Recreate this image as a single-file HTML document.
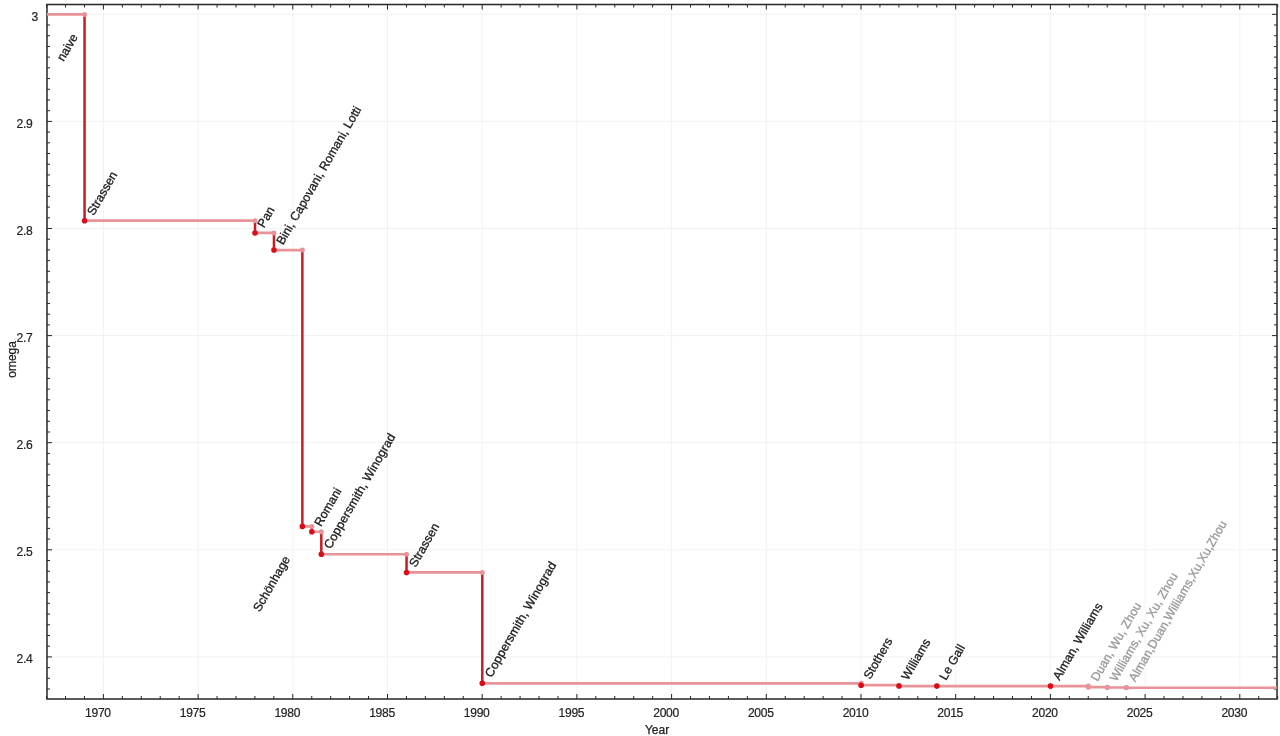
<!DOCTYPE html><html><head><meta charset="utf-8"><style>html,body{margin:0;padding:0;background:#fff;width:1280px;height:736px;overflow:hidden}svg{display:block;will-change:transform}#wrap{width:1280px;height:736px}text{font-family:"Liberation Sans",sans-serif}</style></head><body>
<div id="wrap">
<svg width="1280" height="736" viewBox="0 0 1280 736">
<rect width="1280" height="736" fill="#fff"/>
<path d="M103.40 4.5V699.0M198.10 4.5V699.0M292.80 4.5V699.0M387.50 4.5V699.0M482.20 4.5V699.0M576.90 4.5V699.0M671.60 4.5V699.0M766.30 4.5V699.0M861.00 4.5V699.0M955.70 4.5V699.0M1050.40 4.5V699.0M1145.10 4.5V699.0M1239.80 4.5V699.0M47.0 14.30H1277.0M47.0 121.40H1277.0M47.0 228.50H1277.0M47.0 335.60H1277.0M47.0 442.70H1277.0M47.0 549.80H1277.0M47.0 656.90H1277.0" stroke="#f2f2f2" stroke-width="1" fill="none"/>
<path d="M46.58 699.0v-3M46.58 4.5v3M65.52 699.0v-3M65.52 4.5v3M84.46 699.0v-3M84.46 4.5v3M103.40 699.0v-5M103.40 4.5v5M122.34 699.0v-3M122.34 4.5v3M141.28 699.0v-3M141.28 4.5v3M160.22 699.0v-3M160.22 4.5v3M179.16 699.0v-3M179.16 4.5v3M198.10 699.0v-5M198.10 4.5v5M217.04 699.0v-3M217.04 4.5v3M235.98 699.0v-3M235.98 4.5v3M254.92 699.0v-3M254.92 4.5v3M273.86 699.0v-3M273.86 4.5v3M292.80 699.0v-5M292.80 4.5v5M311.74 699.0v-3M311.74 4.5v3M330.68 699.0v-3M330.68 4.5v3M349.62 699.0v-3M349.62 4.5v3M368.56 699.0v-3M368.56 4.5v3M387.50 699.0v-5M387.50 4.5v5M406.44 699.0v-3M406.44 4.5v3M425.38 699.0v-3M425.38 4.5v3M444.32 699.0v-3M444.32 4.5v3M463.26 699.0v-3M463.26 4.5v3M482.20 699.0v-5M482.20 4.5v5M501.14 699.0v-3M501.14 4.5v3M520.08 699.0v-3M520.08 4.5v3M539.02 699.0v-3M539.02 4.5v3M557.96 699.0v-3M557.96 4.5v3M576.90 699.0v-5M576.90 4.5v5M595.84 699.0v-3M595.84 4.5v3M614.78 699.0v-3M614.78 4.5v3M633.72 699.0v-3M633.72 4.5v3M652.66 699.0v-3M652.66 4.5v3M671.60 699.0v-5M671.60 4.5v5M690.54 699.0v-3M690.54 4.5v3M709.48 699.0v-3M709.48 4.5v3M728.42 699.0v-3M728.42 4.5v3M747.36 699.0v-3M747.36 4.5v3M766.30 699.0v-5M766.30 4.5v5M785.24 699.0v-3M785.24 4.5v3M804.18 699.0v-3M804.18 4.5v3M823.12 699.0v-3M823.12 4.5v3M842.06 699.0v-3M842.06 4.5v3M861.00 699.0v-5M861.00 4.5v5M879.94 699.0v-3M879.94 4.5v3M898.88 699.0v-3M898.88 4.5v3M917.82 699.0v-3M917.82 4.5v3M936.76 699.0v-3M936.76 4.5v3M955.70 699.0v-5M955.70 4.5v5M974.64 699.0v-3M974.64 4.5v3M993.58 699.0v-3M993.58 4.5v3M1012.52 699.0v-3M1012.52 4.5v3M1031.46 699.0v-3M1031.46 4.5v3M1050.40 699.0v-5M1050.40 4.5v5M1069.34 699.0v-3M1069.34 4.5v3M1088.28 699.0v-3M1088.28 4.5v3M1107.22 699.0v-3M1107.22 4.5v3M1126.16 699.0v-3M1126.16 4.5v3M1145.10 699.0v-5M1145.10 4.5v5M1164.04 699.0v-3M1164.04 4.5v3M1182.98 699.0v-3M1182.98 4.5v3M1201.92 699.0v-3M1201.92 4.5v3M1220.86 699.0v-3M1220.86 4.5v3M1239.80 699.0v-5M1239.80 4.5v5M1258.74 699.0v-3M1258.74 4.5v3M1277.68 699.0v-3M1277.68 4.5v3M47.0 14.30h5M1277.0 14.30h-5M47.0 25.01h3M1277.0 25.01h-3M47.0 35.72h3M1277.0 35.72h-3M47.0 46.43h3M1277.0 46.43h-3M47.0 57.14h3M1277.0 57.14h-3M47.0 67.85h3M1277.0 67.85h-3M47.0 78.56h3M1277.0 78.56h-3M47.0 89.27h3M1277.0 89.27h-3M47.0 99.98h3M1277.0 99.98h-3M47.0 110.69h3M1277.0 110.69h-3M47.0 121.40h5M1277.0 121.40h-5M47.0 132.11h3M1277.0 132.11h-3M47.0 142.82h3M1277.0 142.82h-3M47.0 153.53h3M1277.0 153.53h-3M47.0 164.24h3M1277.0 164.24h-3M47.0 174.95h3M1277.0 174.95h-3M47.0 185.66h3M1277.0 185.66h-3M47.0 196.37h3M1277.0 196.37h-3M47.0 207.08h3M1277.0 207.08h-3M47.0 217.79h3M1277.0 217.79h-3M47.0 228.50h5M1277.0 228.50h-5M47.0 239.21h3M1277.0 239.21h-3M47.0 249.92h3M1277.0 249.92h-3M47.0 260.63h3M1277.0 260.63h-3M47.0 271.34h3M1277.0 271.34h-3M47.0 282.05h3M1277.0 282.05h-3M47.0 292.76h3M1277.0 292.76h-3M47.0 303.47h3M1277.0 303.47h-3M47.0 314.18h3M1277.0 314.18h-3M47.0 324.89h3M1277.0 324.89h-3M47.0 335.60h5M1277.0 335.60h-5M47.0 346.31h3M1277.0 346.31h-3M47.0 357.02h3M1277.0 357.02h-3M47.0 367.73h3M1277.0 367.73h-3M47.0 378.44h3M1277.0 378.44h-3M47.0 389.15h3M1277.0 389.15h-3M47.0 399.86h3M1277.0 399.86h-3M47.0 410.57h3M1277.0 410.57h-3M47.0 421.28h3M1277.0 421.28h-3M47.0 431.99h3M1277.0 431.99h-3M47.0 442.70h5M1277.0 442.70h-5M47.0 453.41h3M1277.0 453.41h-3M47.0 464.12h3M1277.0 464.12h-3M47.0 474.83h3M1277.0 474.83h-3M47.0 485.54h3M1277.0 485.54h-3M47.0 496.25h3M1277.0 496.25h-3M47.0 506.96h3M1277.0 506.96h-3M47.0 517.67h3M1277.0 517.67h-3M47.0 528.38h3M1277.0 528.38h-3M47.0 539.09h3M1277.0 539.09h-3M47.0 549.80h5M1277.0 549.80h-5M47.0 560.51h3M1277.0 560.51h-3M47.0 571.22h3M1277.0 571.22h-3M47.0 581.93h3M1277.0 581.93h-3M47.0 592.64h3M1277.0 592.64h-3M47.0 603.35h3M1277.0 603.35h-3M47.0 614.06h3M1277.0 614.06h-3M47.0 624.77h3M1277.0 624.77h-3M47.0 635.48h3M1277.0 635.48h-3M47.0 646.19h3M1277.0 646.19h-3M47.0 656.90h5M1277.0 656.90h-5M47.0 667.61h3M1277.0 667.61h-3M47.0 678.32h3M1277.0 678.32h-3M47.0 689.03h3M1277.0 689.03h-3" stroke="#262626" stroke-width="1.0" fill="none"/>
<rect x="47.0" y="4.5" width="1230.0" height="694.5" fill="none" stroke="#262626" stroke-width="1.5"/>
<text x="97.90" y="716.7" font-size="12.1" letter-spacing="-0.3" text-anchor="middle" fill="#222" stroke="#222" stroke-width="0.2">1970</text>
<text x="192.60" y="716.7" font-size="12.1" letter-spacing="-0.3" text-anchor="middle" fill="#222" stroke="#222" stroke-width="0.2">1975</text>
<text x="287.30" y="716.7" font-size="12.1" letter-spacing="-0.3" text-anchor="middle" fill="#222" stroke="#222" stroke-width="0.2">1980</text>
<text x="382.00" y="716.7" font-size="12.1" letter-spacing="-0.3" text-anchor="middle" fill="#222" stroke="#222" stroke-width="0.2">1985</text>
<text x="476.70" y="716.7" font-size="12.1" letter-spacing="-0.3" text-anchor="middle" fill="#222" stroke="#222" stroke-width="0.2">1990</text>
<text x="571.40" y="716.7" font-size="12.1" letter-spacing="-0.3" text-anchor="middle" fill="#222" stroke="#222" stroke-width="0.2">1995</text>
<text x="666.10" y="716.7" font-size="12.1" letter-spacing="-0.3" text-anchor="middle" fill="#222" stroke="#222" stroke-width="0.2">2000</text>
<text x="760.80" y="716.7" font-size="12.1" letter-spacing="-0.3" text-anchor="middle" fill="#222" stroke="#222" stroke-width="0.2">2005</text>
<text x="855.50" y="716.7" font-size="12.1" letter-spacing="-0.3" text-anchor="middle" fill="#222" stroke="#222" stroke-width="0.2">2010</text>
<text x="950.20" y="716.7" font-size="12.1" letter-spacing="-0.3" text-anchor="middle" fill="#222" stroke="#222" stroke-width="0.2">2015</text>
<text x="1044.90" y="716.7" font-size="12.1" letter-spacing="-0.3" text-anchor="middle" fill="#222" stroke="#222" stroke-width="0.2">2020</text>
<text x="1139.60" y="716.7" font-size="12.1" letter-spacing="-0.3" text-anchor="middle" fill="#222" stroke="#222" stroke-width="0.2">2025</text>
<text x="1234.30" y="716.7" font-size="12.1" letter-spacing="-0.3" text-anchor="middle" fill="#222" stroke="#222" stroke-width="0.2">2030</text>
<text x="31.6" y="20.80" font-size="12.1" letter-spacing="-0.3" fill="#222" stroke="#222" stroke-width="0.2">3</text>
<text x="16.5" y="127.90" font-size="12.1" letter-spacing="-0.3" fill="#222" stroke="#222" stroke-width="0.2">2.9</text>
<text x="16.5" y="235.00" font-size="12.1" letter-spacing="-0.3" fill="#222" stroke="#222" stroke-width="0.2">2.8</text>
<text x="16.5" y="342.10" font-size="12.1" letter-spacing="-0.3" fill="#222" stroke="#222" stroke-width="0.2">2.7</text>
<text x="16.5" y="449.20" font-size="12.1" letter-spacing="-0.3" fill="#222" stroke="#222" stroke-width="0.2">2.6</text>
<text x="16.5" y="556.30" font-size="12.1" letter-spacing="-0.3" fill="#222" stroke="#222" stroke-width="0.2">2.5</text>
<text x="16.5" y="663.40" font-size="12.1" letter-spacing="-0.3" fill="#222" stroke="#222" stroke-width="0.2">2.4</text>
<text x="657" y="733.9" font-size="12" text-anchor="middle" fill="#222" stroke="#222" stroke-width="0.25">Year</text>
<text transform="translate(15.5,359.4) rotate(-90)" font-size="12" text-anchor="middle" fill="#222" stroke="#222" stroke-width="0.25">omega</text>
<path d="M47.00 14.45H84.56M84.56 220.72H255.02M255.02 232.93H273.96M273.96 250.07H302.37M302.37 526.39H311.84M311.84 531.74H321.31M321.31 554.23H406.54M406.54 572.44H482.30M482.30 683.29H861.10M861.10 685.22H898.98M898.98 686.07H936.86M936.86 686.11H1050.50M1050.50 686.12H1088.38M1088.38 686.12V687.18M1088.38 687.18H1107.32M1107.32 687.18V687.52M1107.32 687.52H1126.26M1126.26 687.52V687.75M1126.26 687.75H1277.0" stroke="#e8939a" stroke-width="2.7" fill="none"/>
<path d="M84.56 14.45V220.72M255.02 220.72V232.93M273.96 232.93V250.07M302.37 250.07V526.39M311.84 526.39V531.74M321.31 531.74V554.23M406.54 554.23V572.44M482.30 572.44V683.29M861.10 683.29V685.22M898.98 685.22V686.07M936.86 686.07V686.11M1050.50 686.11V686.12" stroke="#cc1c22" stroke-width="2.5" fill="none"/>
<circle cx="84.56" cy="14.45" r="2.5" fill="#e8939a"/>
<circle cx="255.02" cy="220.72" r="2.5" fill="#e8939a"/>
<circle cx="273.96" cy="232.93" r="2.5" fill="#e8939a"/>
<circle cx="302.37" cy="250.07" r="2.5" fill="#e8939a"/>
<circle cx="311.84" cy="526.39" r="2.5" fill="#e8939a"/>
<circle cx="321.31" cy="531.74" r="2.5" fill="#e8939a"/>
<circle cx="406.54" cy="554.23" r="2.5" fill="#e8939a"/>
<circle cx="482.30" cy="572.44" r="2.5" fill="#e8939a"/>
<circle cx="861.10" cy="683.29" r="2.5" fill="#e8939a"/>
<circle cx="898.98" cy="685.22" r="2.5" fill="#e8939a"/>
<circle cx="936.86" cy="686.07" r="2.5" fill="#e8939a"/>
<circle cx="1050.50" cy="686.11" r="2.5" fill="#e8939a"/>
<circle cx="1088.38" cy="686.12" r="2.5" fill="#e8939a"/>
<circle cx="1088.38" cy="687.18" r="2.5" fill="#e8939a"/>
<circle cx="1107.32" cy="687.18" r="2.5" fill="#e8939a"/>
<circle cx="1107.32" cy="687.52" r="2.5" fill="#e8939a"/>
<circle cx="1126.26" cy="687.52" r="2.5" fill="#e8939a"/>
<circle cx="1126.26" cy="687.75" r="2.5" fill="#e8939a"/>
<circle cx="84.56" cy="220.72" r="2.8" fill="#dc0c14"/>
<circle cx="255.02" cy="232.93" r="2.8" fill="#dc0c14"/>
<circle cx="273.96" cy="250.07" r="2.8" fill="#dc0c14"/>
<circle cx="302.37" cy="526.39" r="2.8" fill="#dc0c14"/>
<circle cx="311.84" cy="531.74" r="2.8" fill="#dc0c14"/>
<circle cx="321.31" cy="554.23" r="2.8" fill="#dc0c14"/>
<circle cx="406.54" cy="572.44" r="2.8" fill="#dc0c14"/>
<circle cx="482.30" cy="683.29" r="2.8" fill="#dc0c14"/>
<circle cx="861.10" cy="685.22" r="2.8" fill="#dc0c14"/>
<circle cx="898.98" cy="686.07" r="2.8" fill="#dc0c14"/>
<circle cx="936.86" cy="686.11" r="2.8" fill="#dc0c14"/>
<circle cx="1050.50" cy="686.12" r="2.8" fill="#dc0c14"/>
<text transform="translate(93.66,216.17) rotate(-60)" font-size="12.2" fill="#1a1a1a" stroke="#1a1a1a" stroke-width="0.3">Strassen</text>
<text transform="translate(264.12,228.38) rotate(-60)" font-size="12.2" fill="#1a1a1a" stroke="#1a1a1a" stroke-width="0.3">Pan</text>
<text transform="translate(283.06,245.52) rotate(-60)" font-size="12.2" fill="#1a1a1a" stroke="#1a1a1a" stroke-width="0.3">Bini, Capovani, Romani, Lotti</text>
<text transform="translate(259.67,612.54) rotate(-60)" font-size="12.2" fill="#1a1a1a" stroke="#1a1a1a" stroke-width="0.3">Schönhage</text>
<text transform="translate(320.94,527.19) rotate(-60)" font-size="12.2" fill="#1a1a1a" stroke="#1a1a1a" stroke-width="0.3">Romani</text>
<text transform="translate(330.41,549.68) rotate(-60)" font-size="12.2" fill="#1a1a1a" stroke="#1a1a1a" stroke-width="0.3" textLength="130.8" lengthAdjust="spacingAndGlyphs">Coppersmith, Winograd</text>
<text transform="translate(415.64,567.89) rotate(-60)" font-size="12.2" fill="#1a1a1a" stroke="#1a1a1a" stroke-width="0.3">Strassen</text>
<text transform="translate(491.40,678.14) rotate(-60)" font-size="12.2" fill="#1a1a1a" stroke="#1a1a1a" stroke-width="0.3" textLength="130.8" lengthAdjust="spacingAndGlyphs">Coppersmith, Winograd</text>
<text transform="translate(870.20,680.07) rotate(-60)" font-size="12.2" fill="#1a1a1a" stroke="#1a1a1a" stroke-width="0.3">Stothers</text>
<text transform="translate(908.08,680.92) rotate(-60)" font-size="12.2" fill="#1a1a1a" stroke="#1a1a1a" stroke-width="0.3">Williams</text>
<text transform="translate(945.96,680.96) rotate(-60)" font-size="12.2" fill="#1a1a1a" stroke="#1a1a1a" stroke-width="0.3">Le Gall</text>
<text transform="translate(1059.60,680.97) rotate(-60)" font-size="12.2" fill="#1a1a1a" stroke="#1a1a1a" stroke-width="0.3">Alman, Williams</text>
<text transform="translate(1097.48,682.03) rotate(-60)" font-size="12.2" fill="#999999" stroke="#999999" stroke-width="0.3">Duan, Wu, Zhou</text>
<text transform="translate(1116.42,682.37) rotate(-60)" font-size="12.2" fill="#999999" stroke="#999999" stroke-width="0.3">Williams, Xu, Xu, Zhou</text>
<text transform="translate(1135.36,682.60) rotate(-60)" font-size="12.2" fill="#999999" stroke="#999999" stroke-width="0.3">Alman,Duan,Williams,Xu,Xu,Zhou</text>
<text transform="translate(63.50,62.00) rotate(-60)" font-size="12.2" fill="#1a1a1a" stroke="#1a1a1a" stroke-width="0.3">naive</text>
</svg></div></body></html>
